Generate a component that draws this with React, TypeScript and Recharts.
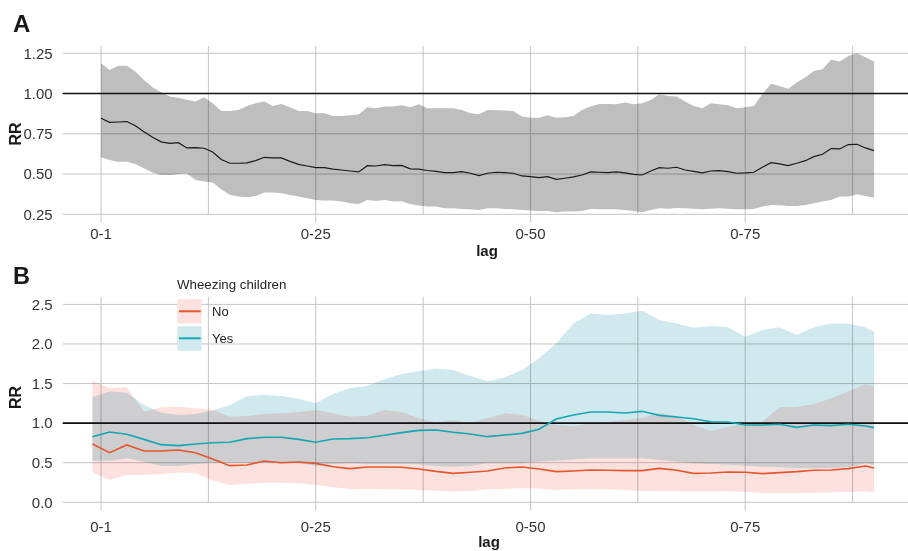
import React from 'react';
import {ComposedChart, Area, Line, XAxis, YAxis, CartesianGrid, ReferenceLine} from 'recharts';

// x positions: lag window index (0 = "0-1")
const lagTicks = [0, 25, 50, 75];
const lagLabels = ['0-1', '0-25', '0-50', '0-75'];
const lagMinor = [12.5, 37.5, 62.5, 87.5];

// Panel A: overall RR with 95% CI
const lagA = Array.from({length: 91}, (_, i) => i);
const aRR = [
    0.846, 0.821, 0.823, 0.826, 0.80, 0.763, 0.728, 0.70, 0.69, 0.695, 0.662, 0.664, 0.66, 0.637, 0.59, 0.567,
    0.567, 0.569, 0.583, 0.604, 0.60, 0.60, 0.579, 0.56, 0.55, 0.54, 0.54, 0.53, 0.525, 0.519, 0.513, 0.552,
    0.55, 0.558, 0.552, 0.554, 0.532, 0.53, 0.522, 0.517, 0.509,
    0.509, 0.515, 0.505, 0.49, 0.505, 0.511, 0.509, 0.505, 0.488, 0.484,
    0.478, 0.484, 0.467, 0.474, 0.482, 0.494, 0.513, 0.511, 0.509, 0.513,
    0.507, 0.498, 0.494, 0.519, 0.54, 0.536, 0.542, 0.525, 0.517, 0.507,
    0.519, 0.521, 0.515, 0.505, 0.507, 0.511, 0.542, 0.571, 0.563, 0.552,
    0.567, 0.583, 0.608, 0.623, 0.658, 0.656, 0.683, 0.685, 0.662, 0.645,
];
const aUpper = [
    1.188, 1.146, 1.173, 1.173, 1.136, 1.084, 1.039, 1.008, 0.981, 0.973, 0.962, 0.95, 0.977, 0.94, 0.892, 0.892,
    0.898, 0.923, 0.94, 0.95, 0.923, 0.935, 0.915, 0.892, 0.892, 0.877, 0.877, 0.86, 0.86, 0.865, 0.869, 0.915,
    0.908, 0.919, 0.919, 0.927, 0.915, 0.933, 0.908, 0.908, 0.908,
    0.908, 0.898, 0.877, 0.871, 0.898, 0.896, 0.894, 0.892, 0.857, 0.85,
    0.85, 0.865, 0.85, 0.852, 0.86, 0.898, 0.919, 0.935, 0.935, 0.933,
    0.944, 0.933, 0.94, 0.96, 0.995, 0.985, 0.981, 0.95, 0.923, 0.908,
    0.94, 0.933, 0.927, 0.908, 0.915, 0.923, 0.997, 1.06, 1.047, 1.03,
    1.068, 1.101, 1.14, 1.15, 1.209, 1.198, 1.233, 1.25, 1.225, 1.198,
];
const aLower = [
    0.604, 0.587, 0.577, 0.577, 0.563, 0.536, 0.509, 0.494, 0.494, 0.50, 0.504, 0.463, 0.453, 0.447, 0.405, 0.37,
    0.36, 0.356, 0.364, 0.385, 0.385, 0.38, 0.37, 0.36, 0.35, 0.339, 0.335, 0.335, 0.329, 0.318, 0.314, 0.339,
    0.333, 0.339, 0.329, 0.331, 0.314, 0.304, 0.298, 0.298, 0.287,
    0.287, 0.283, 0.281, 0.277, 0.287, 0.287, 0.283, 0.281, 0.277, 0.273,
    0.271, 0.271, 0.262, 0.267, 0.267, 0.271, 0.283, 0.281, 0.281, 0.281,
    0.277, 0.271, 0.262, 0.277, 0.287, 0.285, 0.289, 0.287, 0.285, 0.281,
    0.285, 0.287, 0.285, 0.281, 0.281, 0.283, 0.298, 0.308, 0.306, 0.302,
    0.302, 0.308, 0.318, 0.329, 0.339, 0.36, 0.36, 0.374, 0.364, 0.354,
];

// Panel B: by wheezing status
const lagB = [-1, 1, 3, 5, 7, 9, 11, 13, 15, 17, 19, 21, 23, 25, 27, 29, 31, 33, 35, 37, 39, 41, 43, 45,
    47, 49, 51, 53, 55, 57, 59, 61, 63, 65, 67, 69, 71, 73, 75, 77, 79, 81, 83, 85, 87, 89, 90];
const noRR = [
    0.737, 0.627, 0.724, 0.648, 0.648, 0.661, 0.627, 0.547, 0.463, 0.471, 0.522, 0.50,
    0.509, 0.492, 0.45, 0.425, 0.446, 0.446, 0.442, 0.421, 0.391, 0.366, 0.379, 0.396,
    0.434, 0.446, 0.421, 0.387, 0.396, 0.408, 0.404, 0.40, 0.40, 0.429, 0.404, 0.366,
    0.37, 0.383, 0.379, 0.362, 0.375, 0.387, 0.404, 0.408, 0.425, 0.459, 0.434,
];
const noUpper = [
    1.536, 1.44, 1.452, 1.145, 1.20, 1.208, 1.187, 1.17, 1.082, 1.09, 1.115, 1.124,
    1.141, 1.166, 1.124, 1.082, 1.094, 1.166, 1.141, 1.061, 1.01, 1.04, 1.006, 1.061,
    1.124, 1.107, 1.031, 0.976, 0.964, 0.997, 1.018, 1.04, 1.065, 1.128, 1.09, 0.976,
    0.90, 0.955, 0.989, 1.018, 1.20, 1.208, 1.237, 1.313, 1.40, 1.49, 1.465,
];
const noLower = [
    0.375, 0.282, 0.345, 0.345, 0.358, 0.375, 0.366, 0.274, 0.219, 0.231, 0.248, 0.248,
    0.24, 0.219, 0.189, 0.168, 0.168, 0.168, 0.164, 0.156, 0.147, 0.135, 0.143, 0.164,
    0.168, 0.177, 0.173, 0.156, 0.164, 0.168, 0.164, 0.156, 0.143, 0.139, 0.139, 0.135,
    0.135, 0.139, 0.13, 0.118, 0.114, 0.118, 0.122, 0.126, 0.13, 0.135, 0.126,
];
const yesRR = [
    0.829, 0.888, 0.859, 0.795, 0.728, 0.716, 0.737, 0.753, 0.758, 0.804, 0.821, 0.821,
    0.795, 0.758, 0.80, 0.804, 0.816, 0.846, 0.88, 0.909, 0.913, 0.884, 0.863, 0.829,
    0.85, 0.871, 0.922, 1.052, 1.103, 1.141, 1.141, 1.128, 1.149, 1.098, 1.077, 1.056,
    1.018, 1.014, 0.976, 0.976, 0.985, 0.947, 0.976, 0.968, 0.985, 0.964, 0.943,
];
const yesUpper = [
    1.326, 1.40, 1.385, 1.229, 1.132, 1.103, 1.115, 1.16, 1.229, 1.343, 1.355, 1.343,
    1.309, 1.25, 1.368, 1.444, 1.469, 1.553, 1.62, 1.658, 1.688, 1.671, 1.595, 1.528,
    1.578, 1.671, 1.818, 2.008, 2.26, 2.386, 2.365, 2.386, 2.42, 2.302, 2.26, 2.205,
    2.226, 2.21, 2.092, 2.176, 2.21, 2.113, 2.21, 2.26, 2.256, 2.21, 2.155,
];
const yesLower = [
    0.526, 0.526, 0.556, 0.513, 0.459, 0.459, 0.484, 0.50, 0.50, 0.50, 0.50, 0.50,
    0.497, 0.459, 0.484, 0.492, 0.484, 0.484, 0.484, 0.48, 0.459, 0.45, 0.459, 0.492,
    0.492, 0.492, 0.513, 0.526, 0.543, 0.556, 0.556, 0.556, 0.556, 0.535, 0.513, 0.492,
    0.484, 0.476, 0.463, 0.45, 0.442, 0.434, 0.429, 0.434, 0.442, 0.492, 0.471,
];

const aTicks = [0.25, 0.5, 0.75, 1.0, 1.25];
const aGrid = [0.25, 0.375, 0.5, 0.625, 0.75, 0.875, 1.0, 1.125, 1.25];
const bTicks = [0, 0.5, 1.0, 1.5, 2.0, 2.5];
const bGrid = [0, 0.25, 0.5, 0.75, 1.0, 1.25, 1.5, 1.75, 2.0, 2.25, 2.5];

const FONT = '"Liberation Sans", Arial, Helvetica, sans-serif';
const GRID = '#c4c4c4';
const NO_LINE = '#e4572e';
const YES_LINE = '#13a7b4';
const NO_FILL = '#fde1de';
const YES_FILL = '#d0e9ee';

const rowsA = lagA.map((x, i) => ({x, rr: aRR[i], band: [aLower[i], aUpper[i]]}));
const rowsB = lagB.map((x, i) => ({
    x,
    no: noRR[i],
    yes: yesRR[i],
    noBand: [noLower[i], noUpper[i]],
    yesBand: [yesLower[i], yesUpper[i]],
}));

const xDomain = [-4.46, 93.95];
const lagFormat = (v: number) => lagLabels[lagTicks.indexOf(v)] ?? '';
const tickStyle = {fill: '#333', fontSize: 15, fontFamily: FONT};

// ribbons overlap like translucent layers: multiply them onto the grid below
const css = '.recharts-area { mix-blend-mode: multiply; }';

export default function App() {
    return (
        <div style={{position: 'absolute', left: 0, top: 0, width: 908, height: 551, background: '#fff'}}>
            <style>{css}</style>
            <div style={{position: 'absolute', left: 0, top: 0}}>
                <ComposedChart width={908} height={262} data={rowsA} margin={{top: 46, right: 0, bottom: 0, left: 0}}>
                    <CartesianGrid stroke={GRID} horizontalValues={aGrid} verticalValues={[...lagTicks, ...lagMinor]} />
                    <XAxis dataKey="x" type="number" domain={xDomain} ticks={lagTicks} interval={0}
                           tickFormatter={lagFormat} height={47.7} tickSize={8} tickMargin={6.3}
                           axisLine={false} tickLine={{stroke: GRID}} tick={tickStyle} />
                    <YAxis type="number" domain={[0.25, 1.295]} ticks={aTicks} width={62.7}
                           tickSize={6} tickMargin={4} axisLine={false} tickLine={false}
                           tickFormatter={(v: number) => v.toFixed(2)} tick={tickStyle} />
                    <Area dataKey="band" type="linear" fill="#bebebe" fillOpacity={1} stroke="none" isAnimationActive={false} />
                    <ReferenceLine y={1} stroke="#111" strokeWidth={1.7} />
                    <Line dataKey="rr" type="linear" stroke="#1a1a1a" strokeWidth={1.2} dot={false} isAnimationActive={false} />
                </ComposedChart>
            </div>
            <div style={{position: 'absolute', left: 0, top: 260}}>
                <ComposedChart width={908} height={291} data={rowsB} margin={{top: 36.7, right: 0, bottom: 0, left: 0}}>
                    <CartesianGrid stroke={GRID} horizontalValues={bGrid} verticalValues={[...lagTicks, ...lagMinor]} />
                    <XAxis dataKey="x" type="number" domain={xDomain} ticks={lagTicks} interval={0}
                           tickFormatter={lagFormat} height={48.7} tickSize={8} tickMargin={10.7}
                           axisLine={false} tickLine={{stroke: GRID}} tick={tickStyle} />
                    <YAxis type="number" domain={[0, 2.597]} ticks={bTicks} width={62.7}
                           tickSize={6} tickMargin={4} axisLine={false} tickLine={false}
                           tickFormatter={(v: number) => v.toFixed(1)} tick={tickStyle} />
                    <Area dataKey="noBand" type="linear" fill={NO_FILL} fillOpacity={1} stroke="none" isAnimationActive={false} />
                    <Area dataKey="yesBand" type="linear" fill={YES_FILL} fillOpacity={1} stroke="none" isAnimationActive={false} />
                    <ReferenceLine y={1} stroke="#111" strokeWidth={1.7} />
                    <Line dataKey="no" type="linear" stroke={NO_LINE} strokeWidth={1.6} dot={false} isAnimationActive={false} />
                    <Line dataKey="yes" type="linear" stroke={YES_LINE} strokeWidth={1.6} dot={false} isAnimationActive={false} />
                </ComposedChart>
            </div>
            <svg width={908} height={551} style={{position: 'absolute', left: 0, top: 0, pointerEvents: 'none'}}
                 fontFamily={FONT}>
                <text x={13} y={31.5} fontSize={24} fontWeight="bold" fill="#1a1a1a">A</text>
                <text x={13} y={284} fontSize={23.5} fontWeight="bold" fill="#1a1a1a">B</text>
                <text x={487} y={255.5} fontSize={15} fontWeight="bold" fill="#1a1a1a" textAnchor="middle">lag</text>
                <text x={489} y={546.5} fontSize={15} fontWeight="bold" fill="#1a1a1a" textAnchor="middle">lag</text>
                <text transform="translate(20.5,134) rotate(-90)" fontSize={16} fontWeight="bold" fill="#1a1a1a" textAnchor="middle">RR</text>
                <text transform="translate(20.5,397.5) rotate(-90)" fontSize={16} fontWeight="bold" fill="#1a1a1a" textAnchor="middle">RR</text>
                <text x={177} y={289} fontSize={13.3} fill="#222">Wheezing children</text>
                <rect x={177.3} y={299.3} width={24.4} height={24} fill={NO_FILL} />
                <line x1={179} x2={200.7} y1={311.3} y2={311.3} stroke={NO_LINE} strokeWidth={2} />
                <text x={212} y={316} fontSize={13} fill="#222">No</text>
                <rect x={177.3} y={326.3} width={24.4} height={24.4} fill={YES_FILL} />
                <line x1={179} x2={200.7} y1={338.3} y2={338.3} stroke={YES_LINE} strokeWidth={2} />
                <text x={212} y={343} fontSize={13} fill="#222">Yes</text>
            </svg>
        </div>
    );
}
